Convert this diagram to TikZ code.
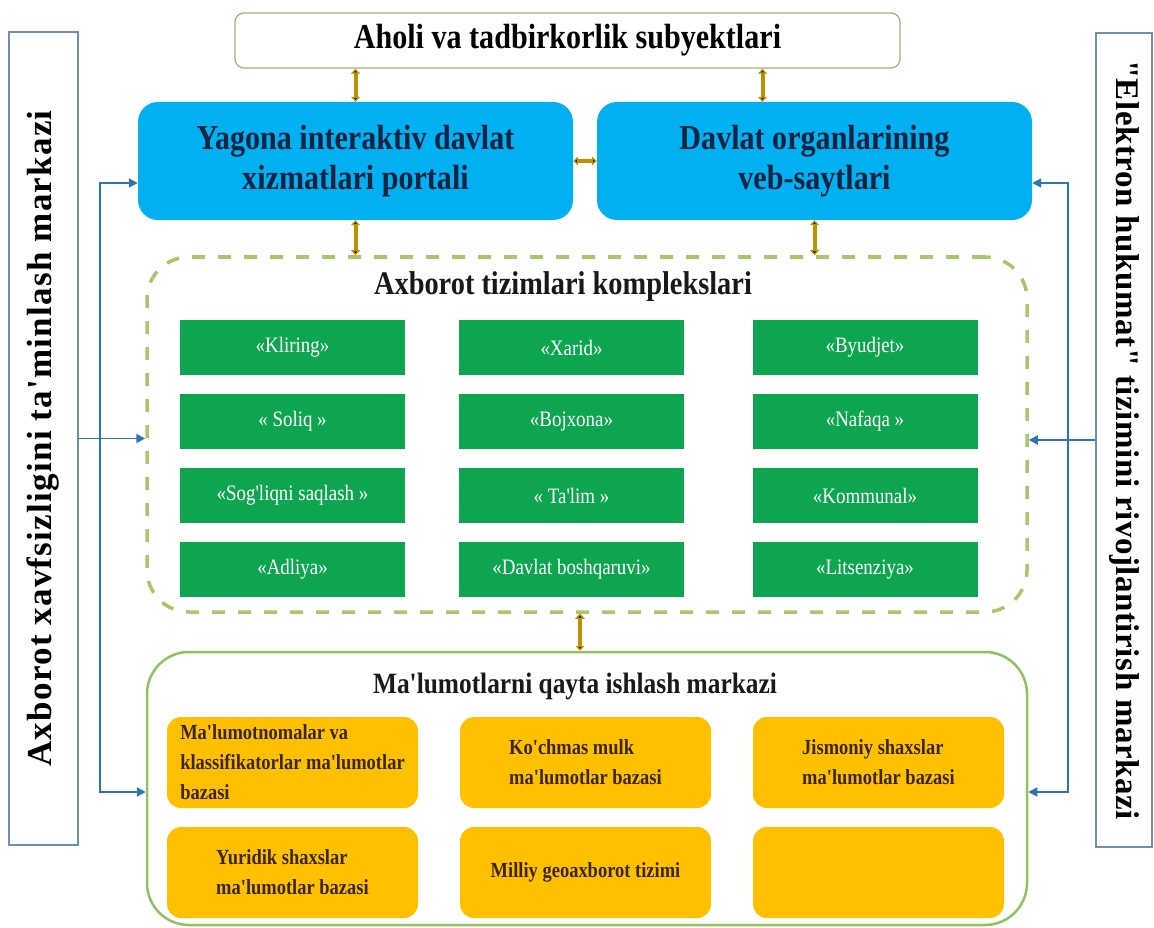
\documentclass[tikz,border=0pt]{standalone}
\usepackage{fontspec}
\setmainfont{Liberation Serif}
\newfontfamily\narrowfont{Liberation Serif}[FakeStretch=0.86]
\usetikzlibrary{positioning,arrows.meta}
\definecolor{portalblue}{HTML}{00B0F0}
\definecolor{navytext}{HTML}{16223F}
\definecolor{topline}{HTML}{A7AE82}
\definecolor{dashgreen}{HTML}{A9C66C}
\definecolor{solidgreen}{HTML}{92C25F}
\definecolor{isgreen}{HTML}{0EA550}
\definecolor{dbgold}{HTML}{FFC000}
\definecolor{dbtext}{HTML}{3B2508}
\definecolor{arrowgold}{HTML}{BF9000}
\definecolor{busblue}{HTML}{2E75B6}
\definecolor{sideblue}{HTML}{6F8FB0}

\begin{document}
\begin{tikzpicture}[x=1pt, y=-1pt, on grid, node distance=74pt,
tbox/.style={draw=topline, line width=1.3pt, rounded corners=9pt, minimum width=665pt, minimum height=55pt, font=\narrowfont\bfseries\fontsize{35}{40}\selectfont},
pbox/.style={fill=portalblue, rounded corners=20pt, minimum width=435pt, minimum height=118pt, align=center, text=navytext, font=\narrowfont\bfseries\fontsize{35}{40}\selectfont},
zone/.style={rounded corners=42pt, minimum width=880pt},
ztitle/.style={text=black!90, font=\narrowfont\bfseries\fontsize{#1}{#1}\selectfont},
isbox/.style={fill=isgreen, minimum width=225pt, minimum height=55pt, inner sep=0pt, text=white, font=\narrowfont\fontsize{22}{26}\selectfont},
dbbox/.style={fill=dbgold, rounded corners=14pt, minimum width=251pt, minimum height=91pt, inner sep=0pt, align=left, text=dbtext, font=\narrowfont\bfseries\fontsize{21.5}{30}\selectfont},
side/.style={draw=sideblue, line width=1.5pt, inner sep=0pt},
gold/.style={<->, draw=arrowgold, line width=4pt, >={Triangle[length=5pt,width=9pt]}},
bus/.style={draw=busblue, line width=1.8pt, >={Triangle[length=9pt,width=9pt]}}]
\useasboundingbox (0,0) rectangle (1154,928);
\node [tbox] (subj) at (567.5,40.5) {Aholi va tadbirkorlik subyektlari};
\node [pbox] (portal) at (355.5,161) {Yagona interaktiv davlat\\xizmatlari portali};
\node [pbox] (sites) at (814.5,161) {Davlat organlarining\\veb-saytlari};
\node [zone, draw=dashgreen, line width=3.5pt, dash pattern=on 13pt off 13pt, minimum height=355pt] (kompl) at (587,434.5) {};
\node [ztitle=33] (kompl_t) at (563,287) {Axborot tizimlari komplekslari};
\node [isbox] (is_1) at (292.5,347.5) {«Kliring»};
\node [isbox] (is_2) [right=279pt of is_1] {«Xarid»};
\node [isbox] (is_3) [right=293.5pt of is_2] {«Byudjet»};
\node [isbox] (is_4) [below=of is_1] {« Soliq »};
\node [isbox] (is_5) [below=of is_2] {«Bojxona»};
\node [isbox] (is_6) [below=of is_3] {«Nafaqa »};
\node [isbox] (is_7) [below=of is_4] {«Sog'liqni saqlash »};
\node [isbox] (is_8) [below=of is_5] {« Ta'lim »};
\node [isbox] (is_9) [below=of is_6] {«Kommunal»};
\node [isbox] (is_10) [below=of is_7] {«Adliya»};
\node [isbox] (is_11) [below=of is_8] {«Davlat boshqaruvi»};
\node [isbox] (is_12) [below=of is_9] {«Litsenziya»};
\node [zone, draw=solidgreen, line width=2.5pt, minimum height=273pt] (markaz) at (587,788.5) {};
\node [ztitle=29.5] (markaz_t) at (575,686) {Ma'lumotlarni qayta ishlash markazi};
\node [dbbox] (db_1) at (292.5,762.5) {Ma'lumotnomalar va\\klassifikatorlar ma'lumotlar\\bazasi};
\node [dbbox] (db_2) [right=293pt of db_1] {Ko'chmas mulk\\ma'lumotlar bazasi};
\node [dbbox] (db_3) [right=293pt of db_2] {Jismoniy shaxslar\\ma'lumotlar bazasi};
\node [dbbox] (db_4) [below=110pt of db_1] {Yuridik shaxslar\\ma'lumotlar bazasi};
\node [dbbox] (db_5) [below=110pt of db_2] {Milliy geoaxborot tizimi};
\node [dbbox] (db_6) [below=110pt of db_3] {};
\node [side, rotate=90, minimum width=813pt, minimum height=69pt, font=\bfseries\addfontfeature{Ligatures=TeXOff, LetterSpace=3.6}\fontsize{35}{40}\selectfont] (xavf) at (43.5,438.5) {Axborot xavfsizligini ta'minlash markazi};
\node [side, rotate=-90, minimum width=814pt, minimum height=56pt, font=\bfseries\addfontfeature{Ligatures=TeXOff, LetterSpace=1.7}\fontsize{33}{38}\selectfont] (egov) at (1124,440) {"Elektron hukumat" tizimini rivojlantirish markazi};
\coordinate (l_top) at (100,183);
\coordinate (l_bot) at (100,792);
\coordinate (r_top) at (1068,183);
\coordinate (r_bot) at (1068,792);
\coordinate (g_2) at ([xshift=-52pt]sites.north);
\coordinate (g_6) at ([xshift=-7pt]kompl.south);
\draw [bus, <->] (portal.west |- l_top) -- (l_top) -- (l_bot) -- (markaz.west |- l_bot);
\draw [bus, <->] (sites.east |- r_top) -- (r_top) -- (r_bot) -- (markaz.east |- r_bot);
\draw [bus, ->] (xavf.south) -- (xavf.south -| kompl.west);
\draw [bus, ->] (egov.south) -- (egov.south -| kompl.east);
\path [gold]
(subj.south -| portal.north) edge (portal.north)
(g_2 |- subj.south) edge (g_2)
(portal.east) edge (sites.west)
(portal.south) edge (portal.south |- kompl.north)
(sites.south) edge (sites.south |- kompl.north)
(g_6) edge (g_6 |- markaz.north);
\end{tikzpicture}
\end{document}
